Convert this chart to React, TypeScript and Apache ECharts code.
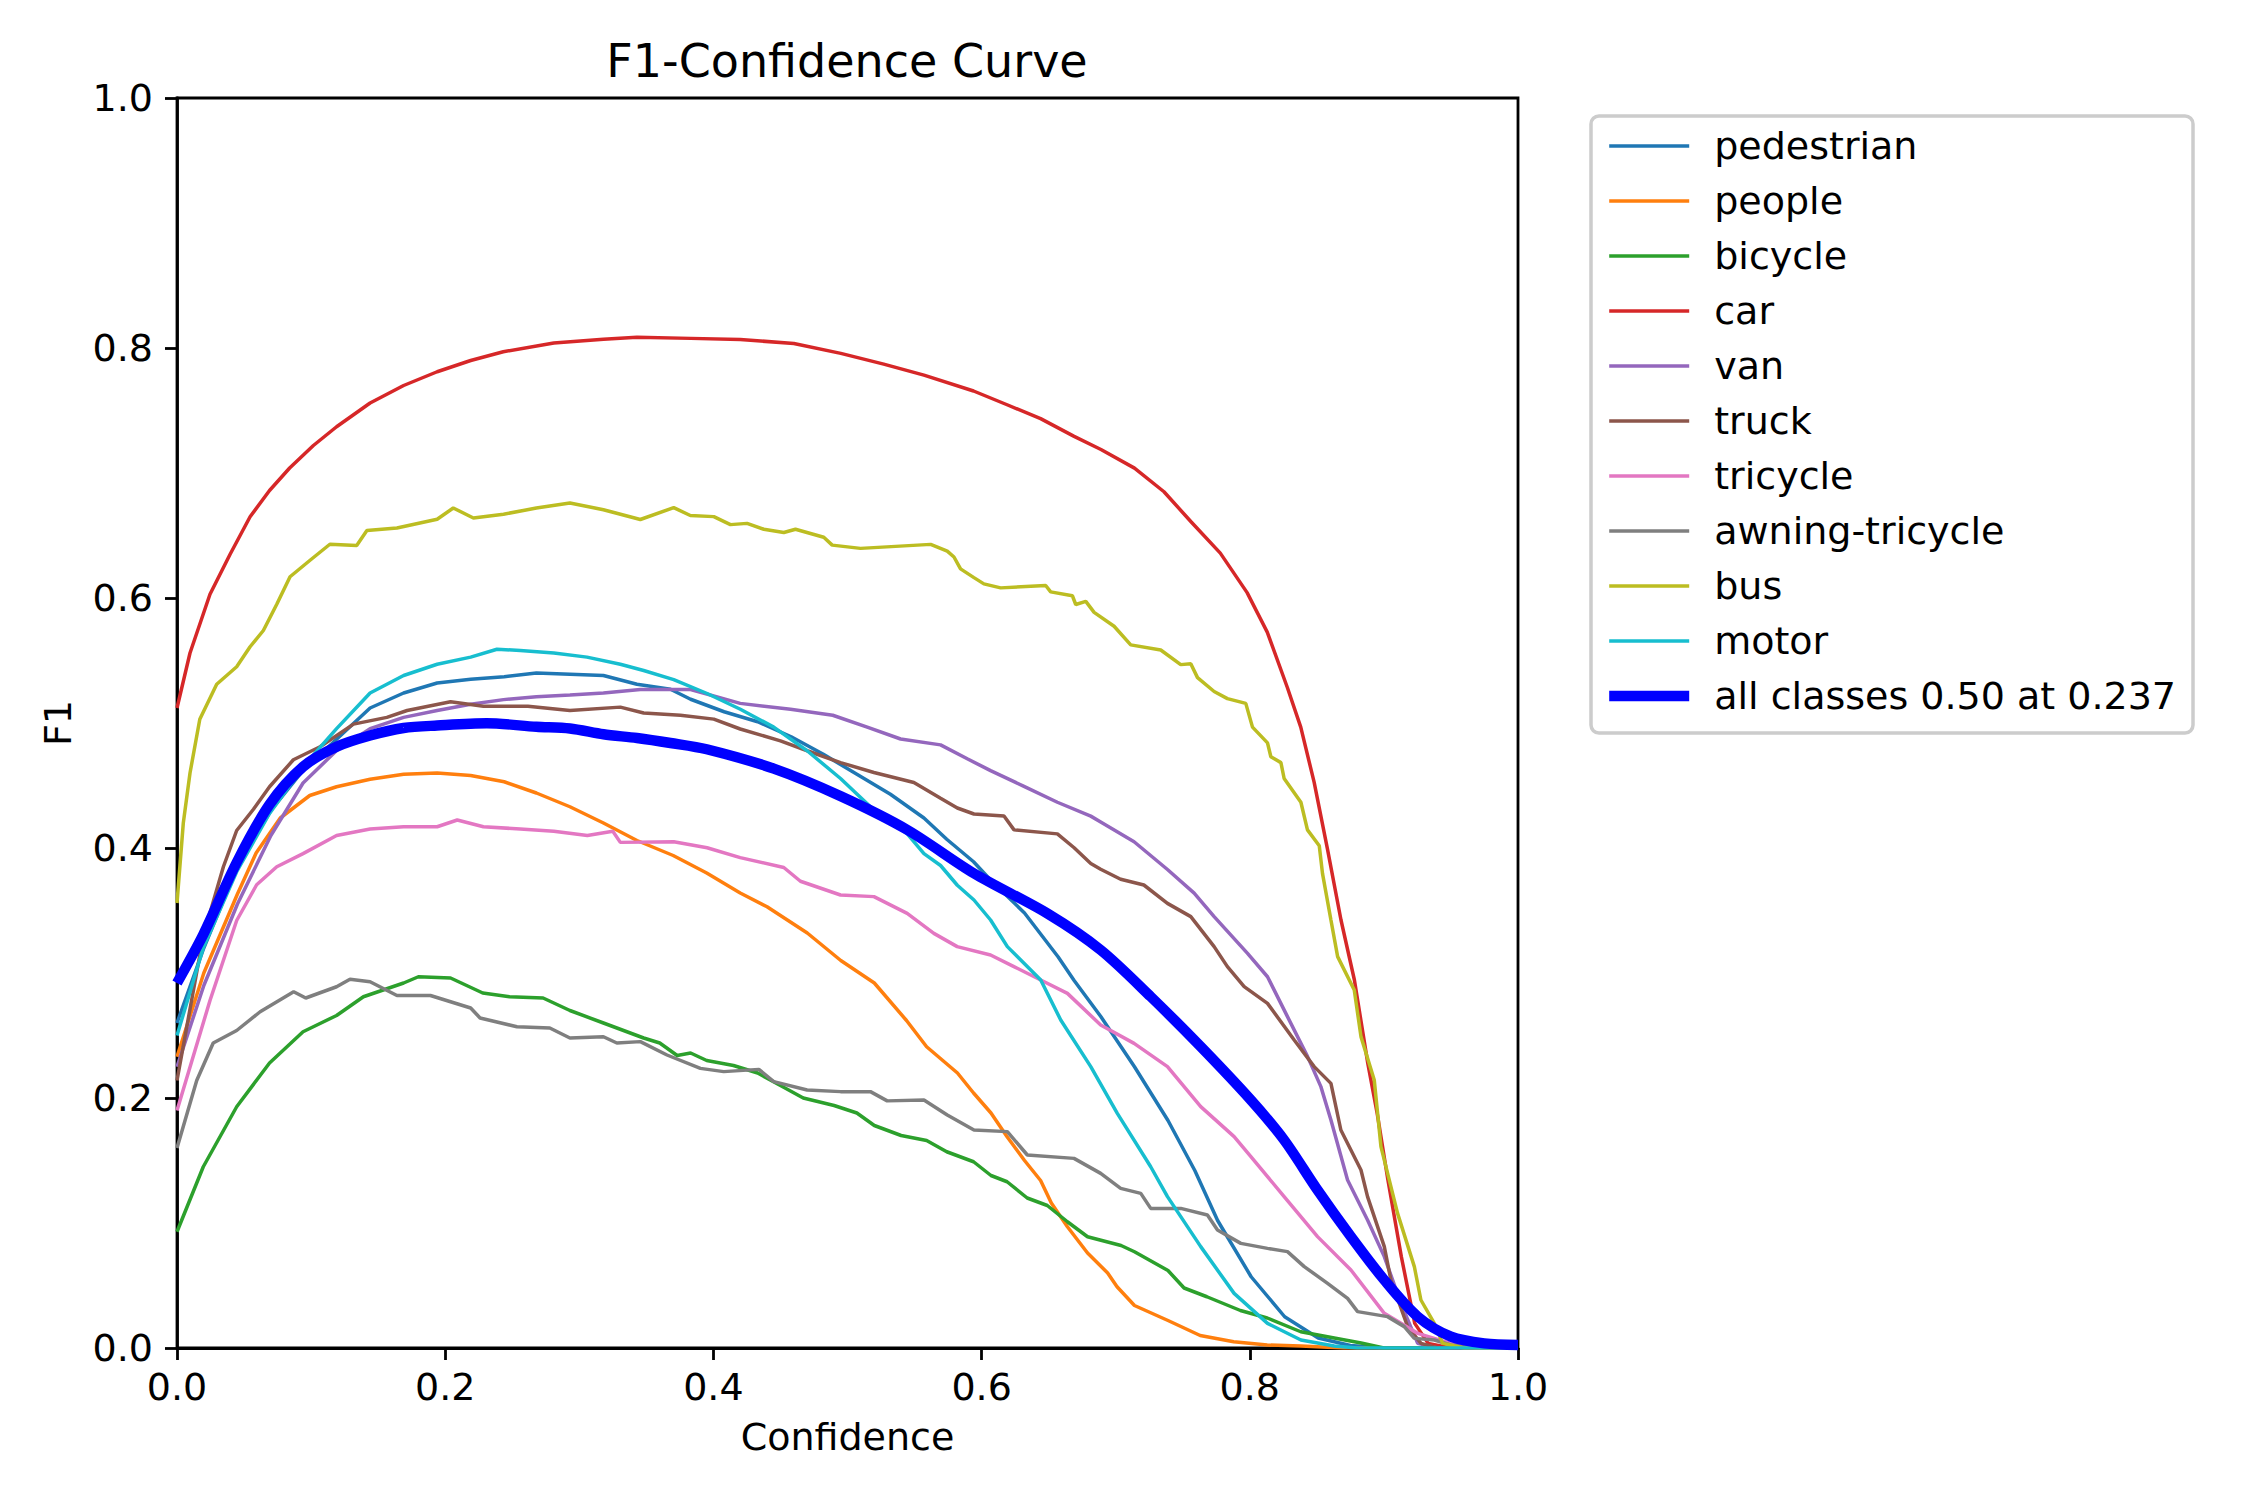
import React, { useEffect, useRef } from "react";
import * as echarts from "echarts";

// F1 vs confidence: [confidence, F1]
const classNames = [
  "pedestrian",
  "people",
  "bicycle",
  "car",
  "van",
  "truck",
  "tricycle",
  "awning-tricycle",
  "bus",
  "motor",
];
const classColors = [
  "#1f77b4",
  "#ff7f0e",
  "#2ca02c",
  "#d62728",
  "#9467bd",
  "#8c564b",
  "#e377c2",
  "#7f7f7f",
  "#bcbd22",
  "#17becf",
];
const meanName = "all classes 0.50 at 0.237";

const pedestrian = [
  [0, 0.26], [0.02, 0.32], [0.045, 0.385], [0.07, 0.43], [0.094, 0.462], [0.119, 0.487],
  [0.144, 0.512], [0.169, 0.524], [0.194, 0.532], [0.219, 0.535], [0.244, 0.537], [0.268, 0.54],
  [0.293, 0.539], [0.318, 0.538], [0.343, 0.531], [0.368, 0.527], [0.383, 0.519], [0.408, 0.509],
  [0.433, 0.501], [0.458, 0.489], [0.482, 0.475], [0.507, 0.459], [0.532, 0.443], [0.557, 0.424],
  [0.574, 0.407], [0.594, 0.389], [0.607, 0.374], [0.632, 0.348], [0.657, 0.313], [0.669, 0.294],
  [0.689, 0.265], [0.714, 0.225], [0.739, 0.182], [0.759, 0.142], [0.776, 0.102], [0.801, 0.057],
  [0.826, 0.025], [0.851, 0.008], [0.875, 0.002], [0.9, 0], [1, 0],
];
const people = [
  [0, 0.233], [0.02, 0.3], [0.045, 0.363], [0.059, 0.396], [0.077, 0.424], [0.099, 0.442],
  [0.119, 0.449], [0.144, 0.455], [0.169, 0.459], [0.194, 0.46], [0.219, 0.458], [0.244, 0.453],
  [0.268, 0.444], [0.293, 0.433], [0.318, 0.42], [0.343, 0.406], [0.37, 0.394], [0.395, 0.38],
  [0.42, 0.364], [0.44, 0.353], [0.47, 0.332], [0.495, 0.31], [0.52, 0.292], [0.544, 0.262],
  [0.559, 0.241], [0.582, 0.22], [0.594, 0.204], [0.607, 0.188], [0.619, 0.169], [0.632, 0.15],
  [0.644, 0.134], [0.652, 0.116], [0.664, 0.097], [0.679, 0.076], [0.694, 0.06], [0.701, 0.049],
  [0.714, 0.034], [0.739, 0.022], [0.763, 0.01], [0.788, 0.005], [0.813, 0.0024], [0.838, 0.0016],
  [0.87, 0], [1, 0],
];
const bicycle = [
  [0, 0.093], [0.0196, 0.145], [0.0445, 0.193], [0.069, 0.228], [0.094, 0.253], [0.119, 0.266],
  [0.139, 0.281], [0.169, 0.292], [0.18, 0.297], [0.204, 0.296], [0.228, 0.284], [0.248, 0.281],
  [0.273, 0.28], [0.293, 0.27], [0.318, 0.26], [0.348, 0.248], [0.36, 0.244], [0.373, 0.234],
  [0.383, 0.236], [0.395, 0.23], [0.415, 0.226], [0.433, 0.22], [0.45, 0.21], [0.467, 0.2],
  [0.49, 0.194], [0.507, 0.188], [0.52, 0.178], [0.54, 0.17], [0.559, 0.166], [0.574, 0.157],
  [0.594, 0.149], [0.607, 0.138], [0.619, 0.133], [0.634, 0.12], [0.649, 0.114], [0.664, 0.101],
  [0.679, 0.089], [0.704, 0.082], [0.714, 0.077], [0.739, 0.062], [0.751, 0.048], [0.768, 0.041],
  [0.793, 0.03], [0.813, 0.024], [0.838, 0.013], [0.863, 0.008], [0.883, 0.004], [0.9, 0], [1, 0],
];
const car = [
  [0, 0.512], [0.0097, 0.556], [0.0246, 0.603], [0.0396, 0.635], [0.0545, 0.665], [0.069, 0.686],
  [0.084, 0.704], [0.1017, 0.722], [0.119, 0.737], [0.144, 0.756], [0.169, 0.77], [0.194, 0.781],
  [0.219, 0.79], [0.2433, 0.797], [0.281, 0.804], [0.318, 0.807], [0.343, 0.8086], [0.383, 0.8077],
  [0.42, 0.8068], [0.46, 0.8036], [0.495, 0.7957], [0.527, 0.7871], [0.557, 0.7783], [0.594, 0.7656],
  [0.619, 0.7546], [0.644, 0.7435], [0.669, 0.7293], [0.689, 0.7188], [0.714, 0.7039], [0.736, 0.685],
  [0.756, 0.6612], [0.778, 0.6359], [0.798, 0.6043], [0.813, 0.5727], [0.828, 0.5284], [0.838, 0.4967],
  [0.848, 0.4525], [0.858, 0.3987], [0.868, 0.3424], [0.878, 0.2944], [0.888, 0.2277], [0.895, 0.1877],
  [0.903, 0.1344], [0.913, 0.0731], [0.923, 0.0197], [0.933, 0.0037], [0.95, 0], [1, 0],
];
const van = [
  [0, 0.225], [0.02, 0.29], [0.045, 0.355], [0.07, 0.41], [0.094, 0.452], [0.119, 0.478],
  [0.144, 0.4955], [0.169, 0.5045], [0.194, 0.51], [0.219, 0.515], [0.2435, 0.5187], [0.268, 0.521],
  [0.293, 0.5224], [0.318, 0.524], [0.3455, 0.5268], [0.383, 0.5268], [0.42, 0.5157], [0.4575, 0.511],
  [0.489, 0.5062], [0.5147, 0.4967], [0.5396, 0.4872], [0.5694, 0.4825], [0.5893, 0.4714], [0.6067, 0.4619],
  [0.6316, 0.4493], [0.6565, 0.4366], [0.6814, 0.4255], [0.6888, 0.4208], [0.7137, 0.405], [0.7386, 0.3828],
  [0.7585, 0.3639], [0.7734, 0.3451], [0.7983, 0.3157], [0.8132, 0.297], [0.8281, 0.2651], [0.8431, 0.2331],
  [0.853, 0.2091], [0.8605, 0.1824], [0.8729, 0.1344], [0.8878, 0.1024], [0.9003, 0.0731], [0.9127, 0.0357],
  [0.9252, 0.0037], [0.94, 0], [1, 0],
];
const truck = [
  [0, 0.214], [0.0197, 0.33], [0.0346, 0.385], [0.0445, 0.414], [0.057, 0.431], [0.069, 0.449],
  [0.0868, 0.4706], [0.1067, 0.481], [0.1316, 0.4991], [0.1565, 0.5045], [0.1716, 0.51], [0.204, 0.517],
  [0.2285, 0.5134], [0.2617, 0.5134], [0.293, 0.51], [0.3306, 0.5127], [0.348, 0.508], [0.3754, 0.5062],
  [0.4003, 0.5031], [0.42, 0.4952], [0.45, 0.4857], [0.47, 0.4778], [0.4948, 0.4683], [0.5197, 0.4604],
  [0.5495, 0.4524], [0.5694, 0.4398], [0.5819, 0.432], [0.5943, 0.4272], [0.6167, 0.4256], [0.6242, 0.4145],
  [0.6565, 0.4113], [0.669, 0.4002], [0.6814, 0.3876], [0.6888, 0.383], [0.7037, 0.375], [0.721, 0.3704],
  [0.7386, 0.3557], [0.756, 0.3451], [0.7734, 0.3211], [0.7833, 0.3051], [0.7958, 0.2891], [0.8132, 0.2757],
  [0.8331, 0.2464], [0.848, 0.2251], [0.8605, 0.2117], [0.8679, 0.1744], [0.8829, 0.1424], [0.8878, 0.1211],
  [0.9003, 0.0811], [0.9052, 0.0544], [0.9177, 0.017], [0.9277, 0.0037], [0.94, 0], [1, 0],
];
const tricycle = [
  [0, 0.19], [0.0246, 0.278], [0.0445, 0.342], [0.0594, 0.3706], [0.0744, 0.385], [0.094, 0.3955],
  [0.119, 0.41], [0.144, 0.4152], [0.169, 0.417], [0.194, 0.417], [0.209, 0.4224], [0.2285, 0.417],
  [0.256, 0.4152], [0.281, 0.4134], [0.306, 0.41], [0.325, 0.4134], [0.3306, 0.4045], [0.3704, 0.405],
  [0.3953, 0.4002], [0.42, 0.3923], [0.4525, 0.3844], [0.4649, 0.3734], [0.4948, 0.3624], [0.5197, 0.3611],
  [0.5445, 0.3477], [0.5644, 0.3317], [0.5818, 0.3211], [0.6067, 0.3144], [0.6241, 0.3051], [0.6441, 0.2944],
  [0.664, 0.2837], [0.6888, 0.2584], [0.7137, 0.2437], [0.7386, 0.2251], [0.7634, 0.1931], [0.7883, 0.1691],
  [0.8008, 0.1531], [0.8256, 0.1211], [0.8505, 0.0891], [0.8754, 0.0624], [0.9003, 0.0277], [0.9252, 0.0117],
  [0.95, 0.0037], [0.97, 0], [1, 0],
];
const awningTricycle = [
  [0, 0.16], [0.0147, 0.214], [0.027, 0.244], [0.0445, 0.254], [0.062, 0.269], [0.087, 0.285],
  [0.096, 0.28], [0.119, 0.289], [0.129, 0.295], [0.144, 0.293], [0.164, 0.282], [0.189, 0.282],
  [0.201, 0.278], [0.219, 0.272], [0.226, 0.264], [0.2535, 0.257], [0.278, 0.256], [0.293, 0.248],
  [0.318, 0.249], [0.328, 0.244], [0.3455, 0.2451], [0.3654, 0.2344], [0.3903, 0.2237], [0.4077, 0.2211],
  [0.4339, 0.2229], [0.445, 0.2131], [0.4699, 0.2064], [0.4948, 0.2051], [0.5171, 0.2051], [0.5296, 0.1977],
  [0.557, 0.1984], [0.5744, 0.1864], [0.5943, 0.1744], [0.6192, 0.1731], [0.6341, 0.1544], [0.6689, 0.1517],
  [0.6888, 0.1397], [0.7037, 0.1277], [0.7187, 0.1237], [0.7261, 0.1117], [0.7485, 0.1117], [0.7684, 0.1064],
  [0.7759, 0.0944], [0.7933, 0.0837], [0.8132, 0.0797], [0.8281, 0.0771], [0.8406, 0.0651], [0.858, 0.0517],
  [0.8729, 0.0397], [0.8804, 0.0291], [0.9027, 0.0251], [0.9152, 0.0171], [0.9227, 0.0077], [0.9376, 0.0064],
  [0.95, 0.0024], [0.97, 0], [1, 0],
];
const bus = [
  [0, 0.356], [0.0047, 0.42], [0.0097, 0.46], [0.017, 0.503], [0.0296, 0.531], [0.0445, 0.545],
  [0.0545, 0.561], [0.0644, 0.574], [0.0744, 0.595], [0.0843, 0.617], [0.099, 0.63], [0.114, 0.643],
  [0.134, 0.642], [0.1416, 0.654], [0.164, 0.656], [0.194, 0.663], [0.206, 0.672], [0.221, 0.664],
  [0.2435, 0.667], [0.268, 0.672], [0.293, 0.676], [0.318, 0.6706], [0.3455, 0.6628], [0.3704, 0.6723],
  [0.3828, 0.666], [0.4003, 0.6651], [0.4127, 0.6587], [0.4251, 0.6597], [0.4376, 0.655], [0.4525, 0.6524],
  [0.4612, 0.655], [0.4823, 0.6486], [0.4886, 0.6423], [0.5097, 0.6397], [0.562, 0.6429], [0.5744, 0.6375],
  [0.5794, 0.6328], [0.5843, 0.6233], [0.5943, 0.6163], [0.6017, 0.6113], [0.6142, 0.6081], [0.6478, 0.61],
  [0.6515, 0.6049], [0.6677, 0.6018], [0.6702, 0.5948], [0.6777, 0.5973], [0.6839, 0.5885], [0.6988, 0.5774],
  [0.7112, 0.5625], [0.7336, 0.5584], [0.7485, 0.5467], [0.756, 0.5474], [0.761, 0.5363], [0.7734, 0.5252],
  [0.7833, 0.5195], [0.797, 0.5157], [0.802, 0.4967], [0.8132, 0.4841], [0.8157, 0.473], [0.8232, 0.4683],
  [0.8256, 0.4556], [0.8381, 0.4366], [0.843, 0.4145], [0.8518, 0.4018], [0.8542, 0.3797], [0.8605, 0.3424],
  [0.8655, 0.3131], [0.8779, 0.2864], [0.8829, 0.2491], [0.8928, 0.2144], [0.8978, 0.1611], [0.9102, 0.1077],
  [0.9227, 0.0651], [0.9276, 0.0384], [0.9376, 0.0197], [0.9438, 0.0037], [0.96, 0], [1, 0],
];
const motor = [
  [0, 0.25], [0.0197, 0.3206], [0.0445, 0.381], [0.069, 0.4276], [0.094, 0.465], [0.119, 0.4955],
  [0.144, 0.524], [0.169, 0.538], [0.194, 0.547], [0.219, 0.5527], [0.2386, 0.559], [0.256, 0.558],
  [0.281, 0.556], [0.3057, 0.5527], [0.3306, 0.547], [0.348, 0.542], [0.3704, 0.5347], [0.3953, 0.5236],
  [0.4201, 0.511], [0.445, 0.4967], [0.4699, 0.4778], [0.4948, 0.4556], [0.5072, 0.443], [0.5197, 0.4303],
  [0.5446, 0.4113], [0.557, 0.3955], [0.5694, 0.386], [0.5819, 0.3702], [0.5943, 0.3584], [0.6067, 0.3424],
  [0.6192, 0.3211], [0.6441, 0.2944], [0.659, 0.2624], [0.6814, 0.2251], [0.7012, 0.1877], [0.7261, 0.145],
  [0.7386, 0.1211], [0.7634, 0.0811], [0.7883, 0.0437], [0.8132, 0.0197], [0.8381, 0.0064], [0.863, 0.0016],
  [0.88, 0], [1, 0],
];
const allClasses = [
  [0, 0.292], [0.0197, 0.331], [0.0445, 0.3884], [0.069, 0.4348], [0.094, 0.465], [0.119, 0.481],
  [0.144, 0.49], [0.169, 0.496], [0.194, 0.498], [0.231, 0.4998], [0.268, 0.497], [0.293, 0.4956],
  [0.318, 0.491], [0.343, 0.488], [0.368, 0.484], [0.395, 0.479], [0.445, 0.4635], [0.495, 0.4414],
  [0.5446, 0.4145], [0.5943, 0.3797], [0.65, 0.347], [0.6888, 0.3184], [0.7261, 0.2811], [0.7634, 0.2411],
  [0.8008, 0.1984], [0.8256, 0.1664], [0.8505, 0.1264], [0.8754, 0.0891], [0.9003, 0.0544], [0.9252, 0.0251],
  [0.95, 0.0091], [0.9749, 0.0037], [1, 0.0024],
];

const classData = [
  pedestrian, people, bicycle, car, van, truck, tricycle, awningTricycle, bus, motor,
];

const FONT = "DejaVu Sans";

export default function App() {
  const chartRef = useRef<HTMLDivElement>(null);

  useEffect(() => {
    document.body.style.margin = "0";
    if (!chartRef.current) return;
    const chart = echarts.init(chartRef.current, undefined, { renderer: "svg" });

    const series: any[] = classNames.map((name, i) => ({
      name,
      type: "line",
      data: classData[i],
      symbol: "none",
      showSymbol: false,
      lineStyle: { width: 3.5, color: classColors[i] },
      itemStyle: { color: classColors[i] },
      z: 2,
    }));
    series.push({
      name: meanName,
      type: "line",
      data: allClasses,
      symbol: "none",
      showSymbol: false,
      smooth: 0.3,
      lineStyle: { width: 10.4, color: "#0000ff" },
      itemStyle: { color: "#0000ff" },
      z: 3,
    });

    const tickLabel = (v: number) => v.toFixed(1);
    const axisCommon = {
      type: "value",
      min: 0,
      max: 1,
      interval: 0.2,
      splitLine: { show: false },
      axisLine: { show: true, onZero: false, lineStyle: { color: "#000", width: 2.8 } },
      axisTick: { show: true, inside: false, length: 12, lineStyle: { color: "#000", width: 2.8 } },
      nameLocation: "middle",
      nameTextStyle: { color: "#000", fontSize: 38, fontFamily: FONT },
    };

    chart.setOption({
      animation: false,
      backgroundColor: "#ffffff",
      textStyle: { fontFamily: FONT },
      title: {
        text: "F1-Confidence Curve",
        left: 842,
        top: 33,
        textAlign: "center",
        textStyle: { fontSize: 46, fontWeight: "normal", color: "#000", fontFamily: FONT },
      },
      grid: {
        left: 177,
        top: 98,
        width: 1341,
        height: 1250,
        show: true,
        borderColor: "#000",
        borderWidth: 2.8,
        backgroundColor: "transparent",
      },
      legend: {
        orient: "vertical",
        left: 1591,
        top: 116,
        padding: [10, 17, 17, 13],
        itemWidth: 80,
        itemHeight: 4,
        itemGap: 15,
        data: [...classNames, meanName],
        backgroundColor: "rgba(255,255,255,0.8)",
        borderColor: "#cccccc",
        borderWidth: 3.5,
        borderRadius: 8,
        lineStyle: { width: "inherit" },
        itemStyle: { opacity: 0 },
        textStyle: {
          fontSize: 38,
          lineHeight: 40,
          color: "#000",
          fontFamily: FONT,
          padding: [0, 0, 0, 20],
        },
      },
      xAxis: {
        ...axisCommon,
        name: "Confidence",
        nameGap: 70,
        axisLabel: { color: "#000", fontSize: 38, fontFamily: FONT, margin: 20, formatter: tickLabel },
      },
      yAxis: {
        ...axisCommon,
        name: "F1",
        nameGap: 100,
        axisLabel: { color: "#000", fontSize: 38, fontFamily: FONT, margin: 24, formatter: tickLabel },
      },
      series,
    });

    return () => chart.dispose();
  }, []);

  return <div ref={chartRef} style={{ width: 2250, height: 1500 }} />;
}
